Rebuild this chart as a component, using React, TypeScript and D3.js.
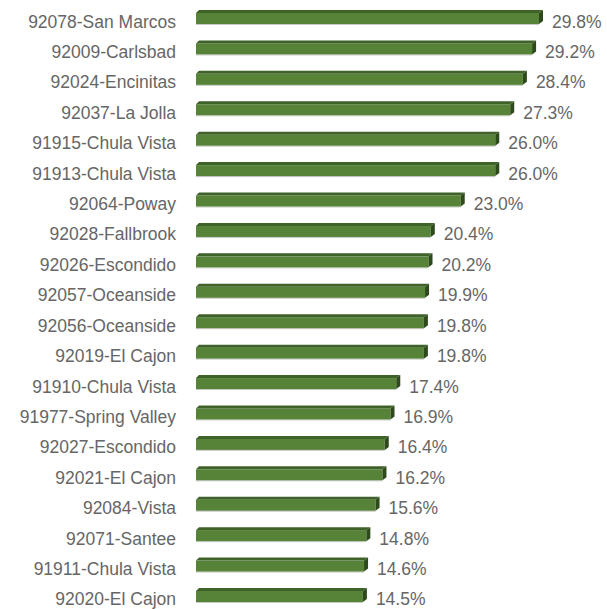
import React, { useEffect, useRef } from 'react';
import * as d3 from 'd3';

// Share by ZIP code (percent)
const zipLabels: string[] = [
  '92078-San Marcos',
  '92009-Carlsbad',
  '92024-Encinitas',
  '92037-La Jolla',
  '91915-Chula Vista',
  '91913-Chula Vista',
  '92064-Poway',
  '92028-Fallbrook',
  '92026-Escondido',
  '92057-Oceanside',
  '92056-Oceanside',
  '92019-El Cajon',
  '91910-Chula Vista',
  '91977-Spring Valley',
  '92027-Escondido',
  '92021-El Cajon',
  '92084-Vista',
  '92071-Santee',
  '91911-Chula Vista',
  '92020-El Cajon',
];

const shareValues: number[] = [
  29.8, 29.2, 28.4, 27.3, 26.0, 26.0, 23.0, 20.4, 20.2, 19.9,
  19.8, 19.8, 17.4, 16.9, 16.4, 16.2, 15.6, 14.8, 14.6, 14.5,
];

const App = () => {
  const ref = useRef<SVGSVGElement | null>(null);

  useEffect(() => {
    const width = 607;
    const height = 609;
    const svg = d3.select(ref.current);
    svg.selectAll('*').remove();

    const rows = zipLabels.map((label, i) => ({ label, value: shareValues[i] }));

    // scales
    const x = d3.scaleLinear().domain([0, 30]).range([196, 196 + 30 * 11.51]);
    const y = d3.scaleBand<string>()
      .domain(zipLabels)
      .range([1.8, 610.2])
      .paddingInner(0.54)
      .paddingOuter(0.27);

    const bw = y.bandwidth();
    const depthY = 3; // top face height
    const depthX = 4; // side face width

    const g = svg.append('g');

    // floor shadow line under each bar
    g.selectAll('.floor')
      .data(rows)
      .enter()
      .append('rect')
      .attr('x', x(0))
      .attr('y', d => (y(d.label) as number) + bw)
      .attr('width', d => x(d.value) - x(0))
      .attr('height', 1)
      .attr('fill', '#c8c8c8');

    // front face
    g.selectAll('.front')
      .data(rows)
      .enter()
      .append('rect')
      .attr('x', x(0))
      .attr('y', d => (y(d.label) as number) + depthY)
      .attr('width', d => x(d.value) - x(0))
      .attr('height', bw - depthY)
      .attr('fill', '#568338');

    // top face
    g.selectAll('.top')
      .data(rows)
      .enter()
      .append('path')
      .attr('d', d => {
        const y0 = y(d.label) as number;
        const x0 = x(0);
        const x1 = x(d.value);
        return `M${x0},${y0 + depthY}L${x0 + depthX - 1},${y0}L${x1 + depthX},${y0}L${x1},${y0 + depthY}Z`;
      })
      .attr('fill', '#3e6228');

    // side face
    g.selectAll('.side')
      .data(rows)
      .enter()
      .append('path')
      .attr('d', d => {
        const y0 = y(d.label) as number;
        const x1 = x(d.value);
        return `M${x1},${y0 + depthY}L${x1 + depthX},${y0}L${x1 + depthX},${y0 + bw - depthY}L${x1},${y0 + bw}Z`;
      })
      .attr('fill', '#2e4a1c');

    // category labels
    g.selectAll('.cat')
      .data(rows)
      .enter()
      .append('text')
      .attr('x', 176)
      .attr('y', d => (y(d.label) as number) + 17.5)
      .attr('text-anchor', 'end')
      .style('font-family', '"Liberation Sans", Arial, sans-serif')
      .style('font-size', '17.5px')
      .attr('fill', '#666666')
      .text(d => d.label);

    // value labels
    g.selectAll('.val')
      .data(rows)
      .enter()
      .append('text')
      .attr('x', d => x(d.value) + 13)
      .attr('y', d => (y(d.label) as number) + 17.5)
      .style('font-family', '"Liberation Sans", Arial, sans-serif')
      .style('font-size', '17.5px')
      .attr('fill', '#666666')
      .text(d => `${d.value.toFixed(1)}%`);

    svg.attr('width', width).attr('height', height);
  }, []);

  return (
    <svg
      ref={ref}
      width={607}
      height={609}
      style={{ position: 'absolute', left: 0, top: 0, background: '#fff' }}
    />
  );
};

export default App;
